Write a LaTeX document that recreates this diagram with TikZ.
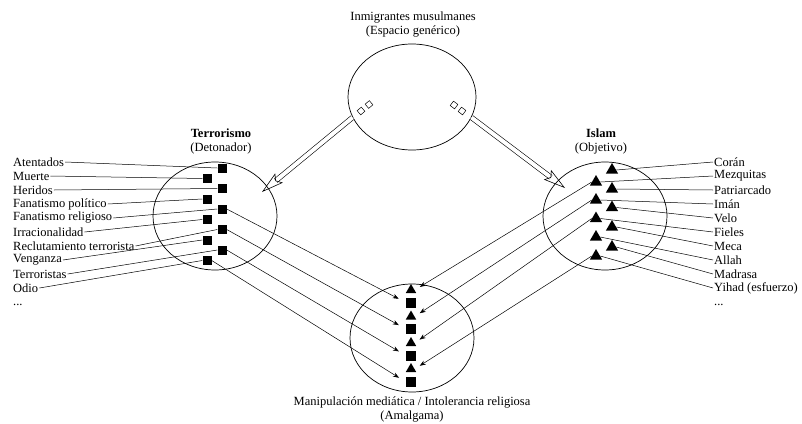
\documentclass[tikz,border=0pt]{standalone}
\usepackage{fontspec}
\setmainfont{Liberation Serif}
\usetikzlibrary{arrows.meta,shapes.geometric}

\begin{document}
\begin{tikzpicture}[x=1pt,y=-1pt,
		font=\fontsize{12.5}{14}\selectfont,
		field/.style={ellipse, draw, line width=0.7pt, minimum width=124pt, minimum height=108pt},
		word/.style={anchor=west, inner sep=1pt},
		sq/.style={rectangle, fill, minimum size=9pt, inner sep=0pt},
		tri/.style={regular polygon, regular polygon sides=3, fill, minimum size=14pt, inner sep=0pt},
		slot/.style={rectangle, draw, line width=0.5pt, minimum size=5.5pt, inner sep=0pt},
		link/.style={line width=0.5pt},
		flow/.style={-{Stealth[length=6pt,width=4.5pt]}, shorten >=8pt},
		hollow/.style={double, double distance=4pt, line width=0.6pt, -{Stealth[open,length=22pt,width=12pt,inset=4pt]}}]
		\useasboundingbox (0,0) rectangle (802,423);

		\draw (412,97) node [field, minimum width=128pt, minimum height=106pt] (gen) {};
		\draw (215,216) node [field] (det) {};
		\draw (605,216) node [field] (obj) {};
		\draw (412,338) node [field] (ama) {};

		\draw (413,25) node [align=center] (tgen) {Inmigrantes musulmanes\\(Espacio genérico)};
		\draw (221,141) node [align=center] (tdet) {\textbf{Terrorismo}\\(Detonador)};
		\draw (601,141) node [align=center] (tobj) {\textbf{Islam}\\(Objetivo)};
		\draw (412,409) node [align=center] (tama) {Manipulación mediática / Intolerancia religiosa\\(Amalgama)};

		% Detonador
		\draw (12,162) node [word] (w1) {Atentados};
		\draw (12,176) node [word] (w2) {Muerte};
		\draw (12,190) node [word] (w3) {Heridos};
		\draw (12,204) node [word] (w4) {Fanatismo político};
		\draw (12,218) node [word] (w5) {Fanatismo religioso};
		\draw (12,232) node [word] (w6) {Irracionalidad};
		\draw (12,246) node [word] (w7) {Reclutamiento terrorista};
		\draw (12,260) node [word] (w8) {Venganza};
		\draw (12,274) node [word] (w9) {Terroristas};
		\draw (12,288) node [word] (w10) {Odio};
		\draw (12,305) node [word] (w11) {...};

		\draw (222,168) node [sq] (s1) {};
		\draw (207,178.5) node [sq] (s2) {};
		\draw (222,188.5) node [sq] (s3) {};
		\draw (207,199) node [sq] (s4) {};
		\draw (222,209) node [sq] (s5) {};
		\draw (207,219.5) node [sq] (s6) {};
		\draw (222,229.5) node [sq] (s7) {};
		\draw (207,240) node [sq] (s8) {};
		\draw (222,250) node [sq] (s9) {};
		\draw (207,260.5) node [sq] (s10) {};

		% Objetivo
		\draw (713,162) node [word] (v1) {Corán};
		\draw (713,176) node [word] (v2) {Mezquitas};
		\draw (713,190) node [word] (v3) {Patriarcado};
		\draw (713,204) node [word] (v4) {Imán};
		\draw (713,218) node [word] (v5) {Velo};
		\draw (713,232) node [word] (v6) {Fieles};
		\draw (713,246) node [word] (v7) {Meca};
		\draw (713,260) node [word] (v8) {Allah};
		\draw (713,274) node [word] (v9) {Madrasa};
		\draw (713,288) node [word] (v10) {Yihad (esfuerzo)};
		\draw (713,305) node [word] (v11) {...};

		\draw (612,170) node [tri] (t1) {};
		\draw (596,182) node [tri] (t2) {};
		\draw (612,189) node [tri] (t3) {};
		\draw (596,200) node [tri] (t4) {};
		\draw (612,207.5) node [tri] (t5) {};
		\draw (596,218.5) node [tri] (t6) {};
		\draw (612,227) node [tri] (t7) {};
		\draw (596,237) node [tri] (t8) {};
		\draw (612,247) node [tri] (t9) {};
		\draw (596,256) node [tri] (t10) {};

		% Amalgama
		\draw (411,290) node [tri, minimum size=12pt] (b1) {};
		\draw (411,302.5) node [sq, minimum size=10pt] (b2) {};
		\draw (411,316.5) node [tri, minimum size=12pt] (b3) {};
		\draw (411,329) node [sq, minimum size=10pt] (b4) {};
		\draw (411,343) node [tri, minimum size=12pt] (b5) {};
		\draw (411,355.5) node [sq, minimum size=10pt] (b6) {};
		\draw (411,369) node [tri, minimum size=12pt] (b7) {};
		\draw (411,382) node [sq, minimum size=10pt] (b8) {};

		\draw (361,111) node [slot, rotate=40] (g1) {};
		\draw (369,104.5) node [slot, rotate=40] (g2) {};
		\draw (462,111) node [slot, rotate=-37] (g3) {};
		\draw (454,105) node [slot, rotate=-37] (g4) {};
		\coordinate (ltip) at (262,192);
		\coordinate (rtip) at (565,188);

		\draw [hollow] (gen.199) -- (ltip);
		\draw [hollow] (gen.341) -- (rtip);

		\draw [link]
		(w1.east) edge (s1.west)
		(w2.east) edge (s2.west)
		(w3.east) edge (s3.west)
		(w4.east) edge (s4.west)
		(w5.east) edge (s5.west)
		(w6.east) edge (s6.west)
		(w7.east) edge (s7.west)
		(w8.east) edge (s8.west)
		(w9.east) edge (s9.west)
		(w10.east) edge (s10.west)
		(v1.west) edge (t1.east)
		(v2.west) edge (t2.east)
		(v3.west) edge (t3.east)
		(v4.west) edge (t4.east)
		(v5.west) edge (t5.east)
		(v6.west) edge (t6.east)
		(v7.west) edge (t7.east)
		(v8.west) edge (t8.east)
		(v9.west) edge (t9.east)
		(v10.west) edge (t10.east);

		\draw [link]
		(s5.east) edge [flow] (b2.west)
		(s7.east) edge [flow] (b4.west)
		(s9.east) edge [flow] (b6.west)
		(s10.east) edge [flow] (b8.west)
		(t2.west) edge [flow, shorten >=6pt] (b1.east)
		(t4.west) edge [flow, shorten >=6pt] (b3.east)
		(t6.west) edge [flow, shorten >=6pt] (b5.east)
		(t10.west) edge [flow, shorten >=6pt] (b7.east);
	\end{tikzpicture}
\end{document}
